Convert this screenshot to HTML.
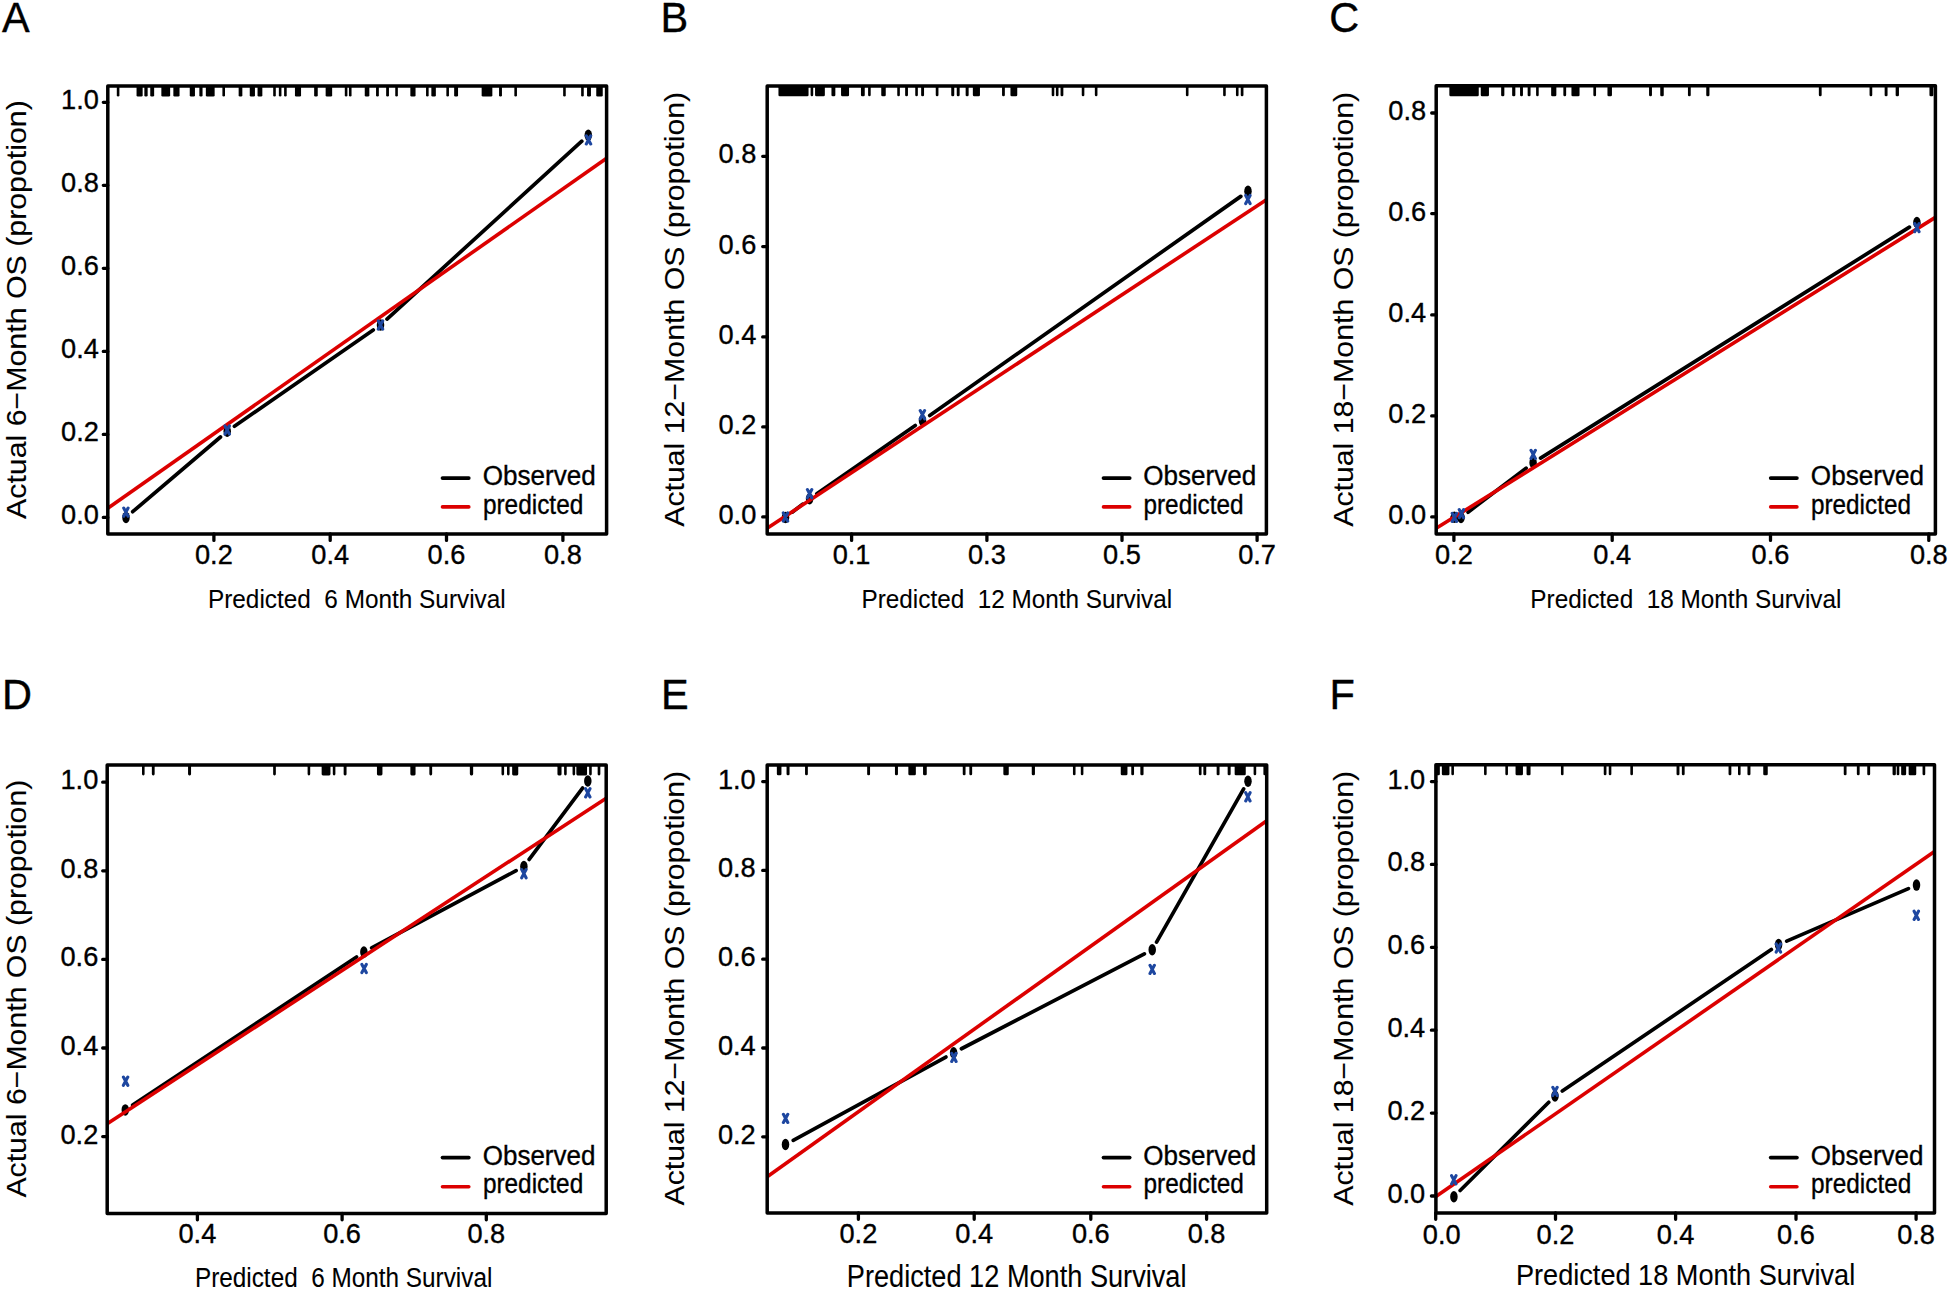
<!DOCTYPE html>
<html><head><meta charset="utf-8"><title>Calibration curves</title>
<style>
html,body{margin:0;padding:0;background:#fff;}
svg{display:block;}
text{font-family:"Liberation Sans", Arial, Helvetica, sans-serif;fill:#000;white-space:pre;stroke:#000;stroke-width:0.35px;}
.t{stroke-width:0.1px;}
</style></head>
<body>
<svg width="1948" height="1289" viewBox="0 0 1948 1289">
<rect width="1948" height="1289" fill="#fff"/>
<text transform="translate(2.1 32) scale(1 1.045)" font-size="41.5">A</text>
<g fill="#000"><rect x="116.8" y="86.1" width="2.6" height="10.4" rx="1.3"/><rect x="136.55" y="86.1" width="6.1" height="10.4" rx="1.3"/><rect x="144.35" y="86.1" width="3.3" height="10.4" rx="1.3"/><rect x="150.25" y="86.1" width="3.9" height="10.4" rx="1.3"/><rect x="161.35" y="86.1" width="8.8" height="10.4" rx="1.3"/><rect x="173.35" y="86.1" width="6.2" height="10.4" rx="1.3"/><rect x="189.75" y="86.1" width="5.2" height="10.4" rx="1.3"/><rect x="199.35" y="86.1" width="3.2" height="10.4" rx="1.3"/><rect x="205.85" y="86.1" width="8.8" height="10.4" rx="1.3"/><rect x="222.4" y="86.1" width="2.6" height="10.4" rx="1.3"/><rect x="238.65" y="86.1" width="3.7" height="10.4" rx="1.3"/><rect x="249.75" y="86.1" width="5.2" height="10.4" rx="1.3"/><rect x="257.55" y="86.1" width="4.8" height="10.4" rx="1.3"/><rect x="273.2" y="86.1" width="2.6" height="10.4" rx="1.3"/><rect x="278.85" y="86.1" width="2.6" height="10.4" rx="1.3"/><rect x="284.1" y="86.1" width="2.6" height="10.4" rx="1.3"/><rect x="294.95" y="86.1" width="6.1" height="10.4" rx="1.3"/><rect x="314.15" y="86.1" width="3.6" height="10.4" rx="1.3"/><rect x="325.65" y="86.1" width="6.5" height="10.4" rx="1.3"/><rect x="344.8" y="86.1" width="2.6" height="10.4" rx="1.3"/><rect x="348.95" y="86.1" width="2.6" height="10.4" rx="1.3"/><rect x="364.75" y="86.1" width="4.6" height="10.4" rx="1.3"/><rect x="376.05" y="86.1" width="2.8" height="10.4" rx="1.3"/><rect x="386.15" y="86.1" width="2.8" height="10.4" rx="1.3"/><rect x="395.25" y="86.1" width="2.6" height="10.4" rx="1.3"/><rect x="410.35" y="86.1" width="5.2" height="10.4" rx="1.3"/><rect x="426.05" y="86.1" width="2.6" height="10.4" rx="1.3"/><rect x="431.35" y="86.1" width="4.5" height="10.4" rx="1.3"/><rect x="446.35" y="86.1" width="2.6" height="10.4" rx="1.3"/><rect x="454.15" y="86.1" width="3.9" height="10.4" rx="1.3"/><rect x="481.65" y="86.1" width="10.7" height="10.4" rx="1.3"/><rect x="499.05" y="86.1" width="2.9" height="10.4" rx="1.3"/><rect x="514.35" y="86.1" width="2.6" height="10.4" rx="1.3"/><rect x="563.15" y="86.1" width="2.6" height="10.4" rx="1.3"/><rect x="581.15" y="86.1" width="2.6" height="10.4" rx="1.3"/><rect x="587.05" y="86.1" width="3.9" height="10.4" rx="1.3"/><rect x="596.25" y="86.1" width="6.5" height="10.4" rx="1.3"/></g>
<path d="M107.8 517.4H103.3M107.8 434.4H103.3M107.8 351.4H103.3M107.8 268.3H103.3M107.8 185.3H103.3M107.8 102.3H103.3M213.9 534V540.4M330.2 534V540.4M446.5 534V540.4M562.9 534V540.4" stroke="#000" stroke-width="3.3" stroke-linecap="round" fill="none"/>
<g font-size="27.2"><text x="98.9" y="524.4" text-anchor="end">0.0</text><text x="98.9" y="441.4" text-anchor="end">0.2</text><text x="98.9" y="358.4" text-anchor="end">0.4</text><text x="98.9" y="275.3" text-anchor="end">0.6</text><text x="98.9" y="192.3" text-anchor="end">0.8</text><text x="98.9" y="109.3" text-anchor="end">1.0</text><text x="213.9" y="564.4" text-anchor="middle">0.2</text><text x="330.2" y="564.4" text-anchor="middle">0.4</text><text x="446.5" y="564.4" text-anchor="middle">0.6</text><text x="562.9" y="564.4" text-anchor="middle">0.8</text></g>
<text class="t" transform="translate(25.6 519) rotate(-90)" x="0" y="0" font-size="27.4" textLength="418.8" lengthAdjust="spacingAndGlyphs">Actual 6−Month OS (propotion)</text>
<text class="t" x="207.96" y="607.9" font-size="26.7" textLength="297.77" lengthAdjust="spacingAndGlyphs">Predicted  6 Month Survival</text>
<path d="M442.5 478.1H468.8" stroke="#000" stroke-width="3.7" stroke-linecap="round"/>
<path d="M442.5 506.9H468.8" stroke="#DC0000" stroke-width="3.6" stroke-linecap="round"/>
<text x="482.75" y="485.1" font-size="27" textLength="113.01" lengthAdjust="spacingAndGlyphs">Observed</text>
<text x="482.88" y="513.8" font-size="27" textLength="100.43" lengthAdjust="spacingAndGlyphs">predicted</text>
<path d="M132.7 511.7L220.5 437M234.43 426.29L373.27 330.01M387 319.07L581.8 141.23" stroke="#000" stroke-width="3.7" stroke-linecap="round" fill="none"/>
<g fill="#000"><ellipse cx="126" cy="517.4" rx="3.75" ry="5.75"/><ellipse cx="227.2" cy="431.3" rx="3.75" ry="5.75"/><ellipse cx="380.5" cy="325" rx="3.75" ry="5.75"/><ellipse cx="588.3" cy="135.3" rx="3.75" ry="5.75"/></g>
<path d="M107.8 508.2L606.6 158.2" stroke="#DC0000" stroke-width="3.6" stroke-linecap="butt"/>
<path d="M123.7 508L128.1 516.2M128.1 508L123.7 516.2M225 425.9L229.4 434.1M229.4 425.9L225 434.1M378.3 320.9L382.7 329.1M382.7 320.9L378.3 329.1M586.3 135.8L590.7 144M590.7 135.8L586.3 144" stroke="#1E47A0" stroke-width="3.1" stroke-linecap="round" fill="none"/>
<rect x="107.8" y="86.1" width="498.8" height="447.9" fill="none" stroke="#000" stroke-width="3.5" stroke-linejoin="round"/>
<text transform="translate(660.6 32) scale(1 1.045)" font-size="41.5">B</text>
<g fill="#000"><rect x="778.45" y="85.9" width="30.1" height="10.4" rx="1.3"/><rect x="810.6" y="85.9" width="2.6" height="10.4" rx="1.3"/><rect x="815.05" y="85.9" width="9.8" height="10.4" rx="1.3"/><rect x="831.45" y="85.9" width="3.9" height="10.4" rx="1.3"/><rect x="841.05" y="85.9" width="8" height="10.4" rx="1.3"/><rect x="860.95" y="85.9" width="3.8" height="10.4" rx="1.3"/><rect x="868.1" y="85.9" width="2.6" height="10.4" rx="1.3"/><rect x="881.25" y="85.9" width="4.5" height="10.4" rx="1.3"/><rect x="897.25" y="85.9" width="2.6" height="10.4" rx="1.3"/><rect x="905.15" y="85.9" width="2.8" height="10.4" rx="1.3"/><rect x="915.25" y="85.9" width="2.6" height="10.4" rx="1.3"/><rect x="921.15" y="85.9" width="2.9" height="10.4" rx="1.3"/><rect x="935.75" y="85.9" width="2.7" height="10.4" rx="1.3"/><rect x="951.25" y="85.9" width="3" height="10.4" rx="1.3"/><rect x="956.75" y="85.9" width="2.9" height="10.4" rx="1.3"/><rect x="965.65" y="85.9" width="3" height="10.4" rx="1.3"/><rect x="972.85" y="85.9" width="7.1" height="10.4" rx="1.3"/><rect x="1002.05" y="85.9" width="2.8" height="10.4" rx="1.3"/><rect x="1010.45" y="85.9" width="6.8" height="10.4" rx="1.3"/><rect x="1051.7" y="85.9" width="2.6" height="10.4" rx="1.3"/><rect x="1055.9" y="85.9" width="2.6" height="10.4" rx="1.3"/><rect x="1060.55" y="85.9" width="2.8" height="10.4" rx="1.3"/><rect x="1081.75" y="85.9" width="2.6" height="10.4" rx="1.3"/><rect x="1094.85" y="85.9" width="2.6" height="10.4" rx="1.3"/><rect x="1185.9" y="85.9" width="2.6" height="10.4" rx="1.3"/><rect x="1223.15" y="85.9" width="2.6" height="10.4" rx="1.3"/><rect x="1235.95" y="85.9" width="2.6" height="10.4" rx="1.3"/><rect x="1240.75" y="85.9" width="2.7" height="10.4" rx="1.3"/></g>
<path d="M767.2 516.9H762.7M767.2 426.9H762.7M767.2 336.9H762.7M767.2 246.6H762.7M767.2 156.3H762.7M851.6 534V540.4M986.9 534V540.4M1122 534V540.4M1257.1 534V540.4" stroke="#000" stroke-width="3.3" stroke-linecap="round" fill="none"/>
<g font-size="27.2"><text x="756.3" y="523.9" text-anchor="end">0.0</text><text x="756.3" y="433.9" text-anchor="end">0.2</text><text x="756.3" y="343.9" text-anchor="end">0.4</text><text x="756.3" y="253.6" text-anchor="end">0.6</text><text x="756.3" y="163.3" text-anchor="end">0.8</text><text x="851.6" y="564.2" text-anchor="middle">0.1</text><text x="986.9" y="564.2" text-anchor="middle">0.3</text><text x="1122" y="564.2" text-anchor="middle">0.5</text><text x="1257.1" y="564.2" text-anchor="middle">0.7</text></g>
<text class="t" transform="translate(683.8 526.8) rotate(-90)" x="0" y="0" font-size="27.4" textLength="435" lengthAdjust="spacingAndGlyphs">Actual 12−Month OS (propotion)</text>
<text class="t" x="861.56" y="607.9" font-size="26.7" textLength="310.63" lengthAdjust="spacingAndGlyphs">Predicted  12 Month Survival</text>
<path d="M1103.5 478.1H1129.7" stroke="#000" stroke-width="3.7" stroke-linecap="round"/>
<path d="M1103.5 506.9H1129.7" stroke="#DC0000" stroke-width="3.6" stroke-linecap="round"/>
<text x="1143.35" y="485.1" font-size="27" textLength="112.91" lengthAdjust="spacingAndGlyphs">Observed</text>
<text x="1143.48" y="513.8" font-size="27" textLength="100.13" lengthAdjust="spacingAndGlyphs">predicted</text>
<path d="M792.44 512.09L802.66 504.11M816.83 493.69L915.27 425.51M929.7 415.43L1240.8 196.37" stroke="#000" stroke-width="3.7" stroke-linecap="round" fill="none"/>
<g fill="#000"><ellipse cx="785.5" cy="517.5" rx="3.75" ry="5.75"/><ellipse cx="809.6" cy="498.7" rx="3.75" ry="5.75"/><ellipse cx="922.5" cy="420.5" rx="3.75" ry="5.75"/><ellipse cx="1248" cy="191.3" rx="3.75" ry="5.75"/></g>
<path d="M767.2 528.2L1266.4 199.8" stroke="#DC0000" stroke-width="3.6" stroke-linecap="butt"/>
<path d="M783.3 512.9L787.7 521.1M787.7 512.9L783.3 521.1M807.4 489.6L811.8 497.8M811.8 489.6L807.4 497.8M920.2 410.6L924.6 418.8M924.6 410.6L920.2 418.8M1245.7 195.4L1250.1 203.6M1250.1 195.4L1245.7 203.6" stroke="#1E47A0" stroke-width="3.1" stroke-linecap="round" fill="none"/>
<rect x="767.2" y="85.9" width="499.2" height="448.1" fill="none" stroke="#000" stroke-width="3.5" stroke-linejoin="round"/>
<text transform="translate(1329.2 32) scale(1 1.045)" font-size="41.5">C</text>
<g fill="#000"><rect x="1449.35" y="85.8" width="29.4" height="10.4" rx="1.3"/><rect x="1480.75" y="85.8" width="8.2" height="10.4" rx="1.3"/><rect x="1501.15" y="85.8" width="3.2" height="10.4" rx="1.3"/><rect x="1512.15" y="85.8" width="3.2" height="10.4" rx="1.3"/><rect x="1520.05" y="85.8" width="2.9" height="10.4" rx="1.3"/><rect x="1527.65" y="85.8" width="2.9" height="10.4" rx="1.3"/><rect x="1536.1" y="85.8" width="2.6" height="10.4" rx="1.3"/><rect x="1551.15" y="85.8" width="5.2" height="10.4" rx="1.3"/><rect x="1563.35" y="85.8" width="2.8" height="10.4" rx="1.3"/><rect x="1571.45" y="85.8" width="8.1" height="10.4" rx="1.3"/><rect x="1593.35" y="85.8" width="2.7" height="10.4" rx="1.3"/><rect x="1607.45" y="85.8" width="4.5" height="10.4" rx="1.3"/><rect x="1649.05" y="85.8" width="2.9" height="10.4" rx="1.3"/><rect x="1660.25" y="85.8" width="3.5" height="10.4" rx="1.3"/><rect x="1687.95" y="85.8" width="2.8" height="10.4" rx="1.3"/><rect x="1706.25" y="85.8" width="3.2" height="10.4" rx="1.3"/><rect x="1818.85" y="85.8" width="2.8" height="10.4" rx="1.3"/><rect x="1869.55" y="85.8" width="2.7" height="10.4" rx="1.3"/><rect x="1884.65" y="85.8" width="2.9" height="10.4" rx="1.3"/><rect x="1895.65" y="85.8" width="3.3" height="10.4" rx="1.3"/><rect x="1929.45" y="85.8" width="3.9" height="10.4" rx="1.3"/></g>
<path d="M1436.2 516.9H1431.7M1436.2 415.9H1431.7M1436.2 314.9H1431.7M1436.2 213.6H1431.7M1436.2 113H1431.7M1453.9 534V540.4M1612.2 534V540.4M1770.5 534V540.4M1928.8 534V540.4" stroke="#000" stroke-width="3.3" stroke-linecap="round" fill="none"/>
<g font-size="27.2"><text x="1426.1" y="523.9" text-anchor="end">0.0</text><text x="1426.1" y="422.9" text-anchor="end">0.2</text><text x="1426.1" y="321.9" text-anchor="end">0.4</text><text x="1426.1" y="220.6" text-anchor="end">0.6</text><text x="1426.1" y="120" text-anchor="end">0.8</text><text x="1453.9" y="564.2" text-anchor="middle">0.2</text><text x="1612.2" y="564.2" text-anchor="middle">0.4</text><text x="1770.5" y="564.2" text-anchor="middle">0.6</text><text x="1928.8" y="564.2" text-anchor="middle">0.8</text></g>
<text class="t" transform="translate(1352.8 526.8) rotate(-90)" x="0" y="0" font-size="27.4" textLength="435" lengthAdjust="spacingAndGlyphs">Actual 18−Month OS (propotion)</text>
<text class="t" x="1530.36" y="607.9" font-size="26.7" textLength="311.13" lengthAdjust="spacingAndGlyphs">Predicted  18 Month Survival</text>
<path d="M1770.7 478.1H1796.9" stroke="#000" stroke-width="3.7" stroke-linecap="round"/>
<path d="M1770.7 506.9H1796.9" stroke="#DC0000" stroke-width="3.6" stroke-linecap="round"/>
<text x="1810.85" y="485.1" font-size="27" textLength="113.11" lengthAdjust="spacingAndGlyphs">Observed</text>
<text x="1810.98" y="513.8" font-size="27" textLength="99.93" lengthAdjust="spacingAndGlyphs">predicted</text>
<path d="M1463.19 517.6L1452.21 517.1M1468.01 512.18L1526.09 468.12M1540.56 458.13L1909.44 227.17" stroke="#000" stroke-width="3.7" stroke-linecap="round" fill="none"/>
<g fill="#000"><ellipse cx="1454.4" cy="517.2" rx="3.75" ry="5.75"/><ellipse cx="1461" cy="517.5" rx="3.75" ry="5.75"/><ellipse cx="1533.1" cy="462.8" rx="3.75" ry="5.75"/><ellipse cx="1916.9" cy="222.5" rx="3.75" ry="5.75"/></g>
<path d="M1436.2 528.3L1935.4 217.4" stroke="#DC0000" stroke-width="3.6" stroke-linecap="butt"/>
<path d="M1452.2 513.3L1456.6 521.5M1456.6 513.3L1452.2 521.5M1459.2 509.5L1463.6 517.7M1463.6 509.5L1459.2 517.7M1531 450.3L1535.4 458.5M1535.4 450.3L1531 458.5M1914.7 223.5L1919.1 231.7M1919.1 223.5L1914.7 231.7" stroke="#1E47A0" stroke-width="3.1" stroke-linecap="round" fill="none"/>
<rect x="1436.2" y="85.8" width="499.2" height="448.2" fill="none" stroke="#000" stroke-width="3.5" stroke-linejoin="round"/>
<text transform="translate(2.1 709) scale(1 1.045)" font-size="41.5">D</text>
<g fill="#000"><rect x="142" y="765" width="2.6" height="10.4" rx="1.3"/><rect x="151.85" y="765" width="2.8" height="10.4" rx="1.3"/><rect x="188.05" y="765" width="3" height="10.4" rx="1.3"/><rect x="273.15" y="765" width="2.7" height="10.4" rx="1.3"/><rect x="307.6" y="765" width="2.6" height="10.4" rx="1.3"/><rect x="321.65" y="765" width="8.8" height="10.4" rx="1.3"/><rect x="332.8" y="765" width="2.6" height="10.4" rx="1.3"/><rect x="343.65" y="765" width="2.9" height="10.4" rx="1.3"/><rect x="376.95" y="765" width="5.5" height="10.4" rx="1.3"/><rect x="410.35" y="765" width="5.2" height="10.4" rx="1.3"/><rect x="429.35" y="765" width="2.8" height="10.4" rx="1.3"/><rect x="469.85" y="765" width="3.3" height="10.4" rx="1.3"/><rect x="501.5" y="765" width="2.6" height="10.4" rx="1.3"/><rect x="507" y="765" width="2.6" height="10.4" rx="1.3"/><rect x="512.15" y="765" width="6.1" height="10.4" rx="1.3"/><rect x="557.45" y="765" width="4.1" height="10.4" rx="1.3"/><rect x="564.1" y="765" width="2.6" height="10.4" rx="1.3"/><rect x="572.55" y="765" width="2.6" height="10.4" rx="1.3"/><rect x="576.35" y="765" width="10.7" height="10.4" rx="1.3"/><rect x="589.15" y="765" width="2.6" height="10.4" rx="1.3"/><rect x="597.65" y="765" width="2.7" height="10.4" rx="1.3"/></g>
<path d="M107.2 1136.6H102.7M107.2 1048H102.7M107.2 959.4H102.7M107.2 870.8H102.7M107.2 782.2H102.7M197.4 1213.4V1219.8M342.1 1213.4V1219.8M486.3 1213.4V1219.8" stroke="#000" stroke-width="3.3" stroke-linecap="round" fill="none"/>
<g font-size="27.2"><text x="98.3" y="1143.6" text-anchor="end">0.2</text><text x="98.3" y="1055" text-anchor="end">0.4</text><text x="98.3" y="966.4" text-anchor="end">0.6</text><text x="98.3" y="877.8" text-anchor="end">0.8</text><text x="98.3" y="789.2" text-anchor="end">1.0</text><text x="197.4" y="1243.3" text-anchor="middle">0.4</text><text x="342.1" y="1243.3" text-anchor="middle">0.6</text><text x="486.3" y="1243.3" text-anchor="middle">0.8</text></g>
<text class="t" transform="translate(25.5 1197.6) rotate(-90)" x="0" y="0" font-size="27.4" textLength="417.9" lengthAdjust="spacingAndGlyphs">Actual 6−Month OS (propotion)</text>
<text class="t" x="194.94" y="1287" font-size="27" textLength="297.41" lengthAdjust="spacingAndGlyphs">Predicted  6 Month Survival</text>
<path d="M442.5 1157.6H468.8" stroke="#000" stroke-width="3.7" stroke-linecap="round"/>
<path d="M442.5 1186.8H468.8" stroke="#DC0000" stroke-width="3.6" stroke-linecap="round"/>
<text x="482.75" y="1164.6" font-size="27" textLength="112.61" lengthAdjust="spacingAndGlyphs">Observed</text>
<text x="482.88" y="1193.3" font-size="27" textLength="100.33" lengthAdjust="spacingAndGlyphs">predicted</text>
<path d="M132.64 1105.05L356.56 956.95M371.66 947.95L516.14 870.65M529.17 859.45L582.53 788.05" stroke="#000" stroke-width="3.7" stroke-linecap="round" fill="none"/>
<g fill="#000"><ellipse cx="125.3" cy="1109.9" rx="3.75" ry="5.75"/><ellipse cx="363.9" cy="952.1" rx="3.75" ry="5.75"/><ellipse cx="523.9" cy="866.5" rx="3.75" ry="5.75"/><ellipse cx="587.8" cy="781" rx="3.75" ry="5.75"/></g>
<path d="M107.2 1123.8L606.2 798.2" stroke="#DC0000" stroke-width="3.6" stroke-linecap="butt"/>
<path d="M123.4 1077.1L127.8 1085.3M127.8 1077.1L123.4 1085.3M361.9 964.4L366.3 972.6M366.3 964.4L361.9 972.6M521.7 869.6L526.1 877.8M526.1 869.6L521.7 877.8M585.6 788.7L590 796.9M590 788.7L585.6 796.9" stroke="#1E47A0" stroke-width="3.1" stroke-linecap="round" fill="none"/>
<rect x="107.2" y="765" width="499" height="448.4" fill="none" stroke="#000" stroke-width="3.5" stroke-linejoin="round"/>
<text transform="translate(660.9 709) scale(1 1.045)" font-size="41.5">E</text>
<g fill="#000"><rect x="776.85" y="764.9" width="4.6" height="10.4" rx="1.3"/><rect x="786.55" y="764.9" width="3" height="10.4" rx="1.3"/><rect x="805.05" y="764.9" width="2.8" height="10.4" rx="1.3"/><rect x="867.15" y="764.9" width="2.9" height="10.4" rx="1.3"/><rect x="894.95" y="764.9" width="3" height="10.4" rx="1.3"/><rect x="908.35" y="764.9" width="7.5" height="10.4" rx="1.3"/><rect x="923.05" y="764.9" width="3.7" height="10.4" rx="1.3"/><rect x="962.75" y="764.9" width="2.8" height="10.4" rx="1.3"/><rect x="969.35" y="764.9" width="2.8" height="10.4" rx="1.3"/><rect x="1003.35" y="764.9" width="5.4" height="10.4" rx="1.3"/><rect x="1031.75" y="764.9" width="3.2" height="10.4" rx="1.3"/><rect x="1072.95" y="764.9" width="2.6" height="10.4" rx="1.3"/><rect x="1080.8" y="764.9" width="2.6" height="10.4" rx="1.3"/><rect x="1120.75" y="764.9" width="6.7" height="10.4" rx="1.3"/><rect x="1131.25" y="764.9" width="2.8" height="10.4" rx="1.3"/><rect x="1140.35" y="764.9" width="3.2" height="10.4" rx="1.3"/><rect x="1198.85" y="764.9" width="2.7" height="10.4" rx="1.3"/><rect x="1203.35" y="764.9" width="2.9" height="10.4" rx="1.3"/><rect x="1216.65" y="764.9" width="2.9" height="10.4" rx="1.3"/><rect x="1227.65" y="764.9" width="3" height="10.4" rx="1.3"/><rect x="1234.65" y="764.9" width="11.1" height="10.4" rx="1.3"/><rect x="1253.6" y="764.9" width="2.6" height="10.4" rx="1.3"/><rect x="1263.4" y="764.9" width="2.6" height="10.4" rx="1.3"/></g>
<path d="M767.2 1136.8H762.7M767.2 1048H762.7M767.2 959.2H762.7M767.2 870.4H762.7M767.2 781.6H762.7M858.4 1212.9V1219.3M974.2 1212.9V1219.3M1090.8 1212.9V1219.3M1206.6 1212.9V1219.3" stroke="#000" stroke-width="3.3" stroke-linecap="round" fill="none"/>
<g font-size="27.2"><text x="755.7" y="1143.8" text-anchor="end">0.2</text><text x="755.7" y="1055" text-anchor="end">0.4</text><text x="755.7" y="966.2" text-anchor="end">0.6</text><text x="755.7" y="877.4" text-anchor="end">0.8</text><text x="755.7" y="788.6" text-anchor="end">1.0</text><text x="858.4" y="1243.3" text-anchor="middle">0.2</text><text x="974.2" y="1243.3" text-anchor="middle">0.4</text><text x="1090.8" y="1243.3" text-anchor="middle">0.6</text><text x="1206.6" y="1243.3" text-anchor="middle">0.8</text></g>
<text class="t" transform="translate(683.8 1205.5) rotate(-90)" x="0" y="0" font-size="27.4" textLength="434.6" lengthAdjust="spacingAndGlyphs">Actual 12−Month OS (propotion)</text>
<text class="t" x="846.85" y="1286.8" font-size="30.6" textLength="339.66" lengthAdjust="spacingAndGlyphs">Predicted 12 Month Survival</text>
<path d="M1103.5 1157.6H1129.7" stroke="#000" stroke-width="3.7" stroke-linecap="round"/>
<path d="M1103.5 1186.8H1129.7" stroke="#DC0000" stroke-width="3.6" stroke-linecap="round"/>
<text x="1143.35" y="1164.6" font-size="27" textLength="112.81" lengthAdjust="spacingAndGlyphs">Observed</text>
<text x="1143.48" y="1193.3" font-size="27" textLength="100.33" lengthAdjust="spacingAndGlyphs">predicted</text>
<path d="M793.23 1140.29L945.87 1057.01M961.41 1048.75L1144.39 953.85M1156.55 942.15L1243.65 788.95" stroke="#000" stroke-width="3.7" stroke-linecap="round" fill="none"/>
<g fill="#000"><ellipse cx="785.5" cy="1144.5" rx="3.75" ry="5.75"/><ellipse cx="953.6" cy="1052.8" rx="3.75" ry="5.75"/><ellipse cx="1152.2" cy="949.8" rx="3.75" ry="5.75"/><ellipse cx="1248" cy="781.3" rx="3.75" ry="5.75"/></g>
<path d="M767.2 1176.7L1266.7 820.8" stroke="#DC0000" stroke-width="3.6" stroke-linecap="butt"/>
<path d="M783.4 1114.3L787.8 1122.5M787.8 1114.3L783.4 1122.5M951.7 1053.3L956.1 1061.5M956.1 1053.3L951.7 1061.5M1150 965.3L1154.4 973.5M1154.4 965.3L1150 973.5M1245.7 792.7L1250.1 800.9M1250.1 792.7L1245.7 800.9" stroke="#1E47A0" stroke-width="3.1" stroke-linecap="round" fill="none"/>
<rect x="767.2" y="764.9" width="499.5" height="448" fill="none" stroke="#000" stroke-width="3.5" stroke-linejoin="round"/>
<text transform="translate(1329.5 709) scale(1 1.045)" font-size="41.5">F</text>
<g fill="#000"><rect x="1435.95" y="764.8" width="3.9" height="10.4" rx="1.3"/><rect x="1441.85" y="764.8" width="7.6" height="10.4" rx="1.3"/><rect x="1451.35" y="764.8" width="2.6" height="10.4" rx="1.3"/><rect x="1484.05" y="764.8" width="2.6" height="10.4" rx="1.3"/><rect x="1505.35" y="764.8" width="2.6" height="10.4" rx="1.3"/><rect x="1515.55" y="764.8" width="7.4" height="10.4" rx="1.3"/><rect x="1526.55" y="764.8" width="4" height="10.4" rx="1.3"/><rect x="1560.95" y="764.8" width="2.6" height="10.4" rx="1.3"/><rect x="1603.75" y="764.8" width="2.7" height="10.4" rx="1.3"/><rect x="1608.75" y="764.8" width="2.6" height="10.4" rx="1.3"/><rect x="1630.35" y="764.8" width="2.6" height="10.4" rx="1.3"/><rect x="1676.55" y="764.8" width="2.9" height="10.4" rx="1.3"/><rect x="1681.85" y="764.8" width="2.8" height="10.4" rx="1.3"/><rect x="1728.55" y="764.8" width="2.8" height="10.4" rx="1.3"/><rect x="1738" y="764.8" width="2.6" height="10.4" rx="1.3"/><rect x="1747.45" y="764.8" width="3" height="10.4" rx="1.3"/><rect x="1763.25" y="764.8" width="4.5" height="10.4" rx="1.3"/><rect x="1843.75" y="764.8" width="2.8" height="10.4" rx="1.3"/><rect x="1856.85" y="764.8" width="2.8" height="10.4" rx="1.3"/><rect x="1867.25" y="764.8" width="2.9" height="10.4" rx="1.3"/><rect x="1892.55" y="764.8" width="3.3" height="10.4" rx="1.3"/><rect x="1896.7" y="764.8" width="2.6" height="10.4" rx="1.3"/><rect x="1901.15" y="764.8" width="5" height="10.4" rx="1.3"/><rect x="1908.65" y="764.8" width="7.6" height="10.4" rx="1.3"/><rect x="1922.55" y="764.8" width="2.7" height="10.4" rx="1.3"/></g>
<path d="M1435.9 1196H1431.4M1435.9 1113.1H1431.4M1435.9 1030.2H1431.4M1435.9 947.3H1431.4M1435.9 864.4H1431.4M1435.9 781.6H1431.4M1435.7 1212.9V1219.3M1555.5 1212.9V1219.3M1675.6 1212.9V1219.3M1796 1212.9V1219.3M1916.1 1212.9V1219.3" stroke="#000" stroke-width="3.3" stroke-linecap="round" fill="none"/>
<g font-size="27.2"><text x="1425.2" y="1203" text-anchor="end">0.0</text><text x="1425.2" y="1120.1" text-anchor="end">0.2</text><text x="1425.2" y="1037.2" text-anchor="end">0.4</text><text x="1425.2" y="954.3" text-anchor="end">0.6</text><text x="1425.2" y="871.4" text-anchor="end">0.8</text><text x="1425.2" y="788.6" text-anchor="end">1.0</text><text x="1441.7" y="1244.3" text-anchor="middle">0.0</text><text x="1555.5" y="1244.3" text-anchor="middle">0.2</text><text x="1675.6" y="1244.3" text-anchor="middle">0.4</text><text x="1796" y="1244.3" text-anchor="middle">0.6</text><text x="1916.1" y="1244.3" text-anchor="middle">0.8</text></g>
<text class="t" transform="translate(1352.8 1205.7) rotate(-90)" x="0" y="0" font-size="27.4" textLength="434.8" lengthAdjust="spacingAndGlyphs">Actual 18−Month OS (propotion)</text>
<text class="t" x="1516" y="1285.1" font-size="30" textLength="339.17" lengthAdjust="spacingAndGlyphs">Predicted 18 Month Survival</text>
<path d="M1770.7 1157.6H1796.9" stroke="#000" stroke-width="3.7" stroke-linecap="round"/>
<path d="M1770.7 1186.8H1796.9" stroke="#DC0000" stroke-width="3.6" stroke-linecap="round"/>
<text x="1810.85" y="1164.6" font-size="27" textLength="112.61" lengthAdjust="spacingAndGlyphs">Observed</text>
<text x="1810.98" y="1193.3" font-size="27" textLength="100.33" lengthAdjust="spacingAndGlyphs">predicted</text>
<path d="M1460.13 1190.49L1548.77 1102.21M1562.29 1091.07L1771.31 949.53M1786.68 941.11L1908.42 888.59" stroke="#000" stroke-width="3.7" stroke-linecap="round" fill="none"/>
<g fill="#000"><ellipse cx="1453.9" cy="1196.7" rx="3.75" ry="5.75"/><ellipse cx="1555" cy="1096" rx="3.75" ry="5.75"/><ellipse cx="1778.6" cy="944.6" rx="3.75" ry="5.75"/><ellipse cx="1916.5" cy="885.1" rx="3.75" ry="5.75"/></g>
<path d="M1435.9 1196.6L1934.5 851.6" stroke="#DC0000" stroke-width="3.6" stroke-linecap="butt"/>
<path d="M1451.6 1175.7L1456 1183.9M1456 1175.7L1451.6 1183.9M1552.8 1087.3L1557.2 1095.5M1557.2 1087.3L1552.8 1095.5M1776.2 943.9L1780.6 952.1M1780.6 943.9L1776.2 952.1M1914.1 911.2L1918.5 919.4M1918.5 911.2L1914.1 919.4" stroke="#1E47A0" stroke-width="3.1" stroke-linecap="round" fill="none"/>
<rect x="1435.9" y="764.8" width="498.6" height="448.1" fill="none" stroke="#000" stroke-width="3.5" stroke-linejoin="round"/>
</svg>
</body></html>
